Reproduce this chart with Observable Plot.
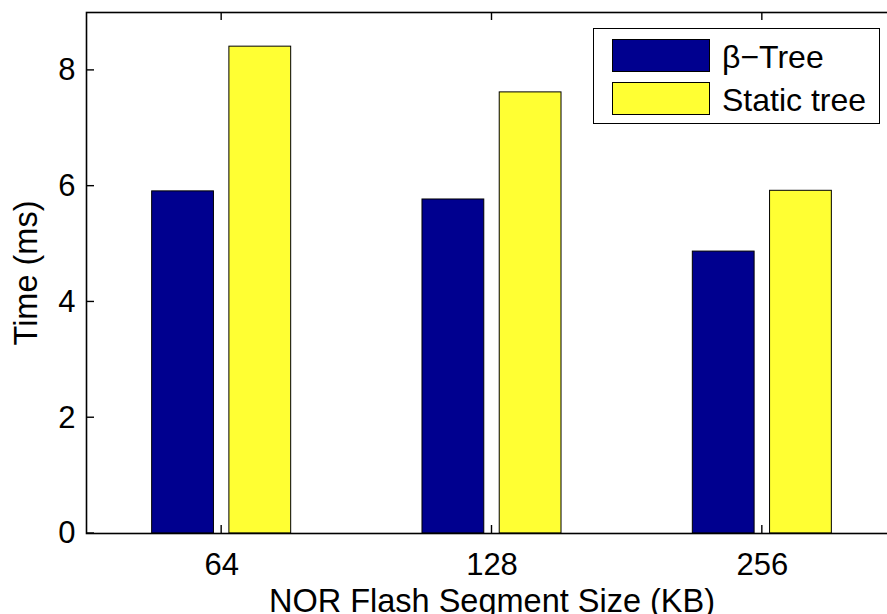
<!DOCTYPE html>
<html>
<head>
<meta charset="utf-8">
<script src="https://cdn.jsdelivr.net/npm/d3@7"></script>
<script src="https://cdn.jsdelivr.net/npm/@observablehq/plot@0.6"></script>
<style>
  html, body { margin: 0; padding: 0; background: white; overflow: hidden; }
  #wrap { position: relative; width: 887px; height: 614px; overflow: hidden; font-family: "Liberation Sans", Arial, Helvetica, sans-serif; }
  #legend { position: absolute; left: 593px; top: 28px; width: 287px; height: 96px; border: 1.5px solid black; background: white; box-sizing: border-box; }
  .item { position: absolute; left: 18px; height: 33px; }
  .sw { position: absolute; left: 0; top: 0; width: 98px; height: 33px; border: 1px solid black; box-sizing: border-box; }
  .lab { position: absolute; left: 110px; white-space: nowrap; font-size: 32px; line-height: 1; color: black; }
</style>
</head>
<body>
<div id="wrap"><div id="chart"></div><div id="legend"></div></div>
<script>
const categories = ["64", "128", "256"];
const series = ["β−Tree", "Static tree"];
const betaTree = [5.91, 5.77, 4.87];
const staticTree = [8.41, 7.62, 5.92];
const colors = ["#00008f", "#ffff33"];
const yTicks = [0, 2, 4, 6, 8];
const xTicks = [1, 2, 3];

const values = [betaTree, staticTree];
const data = [];
categories.forEach((c, i) => {
  series.forEach((s, j) => data.push({cat: i + 1, s: j, series: s, value: values[j][i]}));
});

// MATLAB grouped-bar geometry (2 series)
const groupWidth = Math.min(0.8, 2 / (2 + 1.5));
const barW = 0.8 * groupWidth / 2;
const offset = j => (j - 0.5) * groupWidth / 2;

const W = 887, H = 614, mL = 86, mR = -10, mT = 12, mB = 81;
const tickLen = 8;

const font = '"Liberation Sans", Arial, Helvetica, sans-serif';

const chart = Plot.plot({
  width: W,
  height: H,
  marginLeft: mL,
  marginRight: mR,
  marginTop: mT,
  marginBottom: mB,
  style: {fontFamily: font, background: "white", color: "black", overflow: "hidden"},
  x: {type: "linear", domain: [0.5, 3.5]},
  y: {domain: [0, 9]},
  color: {domain: series, range: colors},
  marks: [
    Plot.rectY(data, {
      x1: d => d.cat + offset(d.s) - barW / 2,
      x2: d => d.cat + offset(d.s) + barW / 2,
      y1: 0,
      y2: "value",
      fill: "series",
      stroke: "black",
      strokeWidth: 1
    }),
    Plot.axisY({ticks: yTicks, tickSize: 0, tickPadding: 11, fontSize: 31, label: null}),
    Plot.axisX({ticks: xTicks, tickSize: 0, tickPadding: 19, fontSize: 31, label: null,
      tickFormat: d => categories[d - 1]}),
    Plot.frame({stroke: "black", strokeWidth: 1.6}),
    Plot.text(["Time (ms)"], {frameAnchor: "left", text: d => d, rotate: -90, dx: -50, lineAnchor: "bottom", fontSize: 32.5, textAnchor: "middle"}),
    Plot.text(["NOR Flash Segment Size (KB)"], {frameAnchor: "bottom", text: d => d, dy: 78, lineAnchor: "bottom", fontSize: 32.5, textAnchor: "middle"})
  ]
});
document.getElementById("chart").appendChild(chart);

// Inward MATLAB-style tick marks, positioned through the chart's own scales
const xs = chart.scale("x"), ys = chart.scale("y");
const [fx0, fx1] = xs.range, [fy0, fy1] = ys.range; // fy0 = bottom, fy1 = top
const ns = "http://www.w3.org/2000/svg";
const g = document.createElementNS(ns, "g");
g.setAttribute("stroke", "black");
g.setAttribute("stroke-width", "1.4");
const line = (x1, y1, x2, y2) => {
  const l = document.createElementNS(ns, "line");
  l.setAttribute("x1", x1); l.setAttribute("y1", y1);
  l.setAttribute("x2", x2); l.setAttribute("y2", y2);
  g.appendChild(l);
};
yTicks.forEach(t => { const y = ys.apply(t); line(fx0, y, fx0 + tickLen, y); line(fx1, y, fx1 - tickLen, y); });
xTicks.forEach(t => { const x = xs.apply(t); line(x, fy0, x, fy0 - tickLen); line(x, fy1, x, fy1 + tickLen); });
chart.appendChild(g);

const legend = document.getElementById("legend");
series.forEach((s, j) => {
  const item = document.createElement("div");
  item.className = "item";
  item.style.top = (j === 0 ? 10 : 53) + "px";
  const sw = document.createElement("div");
  sw.className = "sw";
  sw.style.background = colors[j];
  const lab = document.createElement("div");
  lab.className = "lab";
  lab.style.top = "2px";
  lab.textContent = s;
  item.appendChild(sw);
  item.appendChild(lab);
  legend.appendChild(item);
});
</script>
</body>
</html>
